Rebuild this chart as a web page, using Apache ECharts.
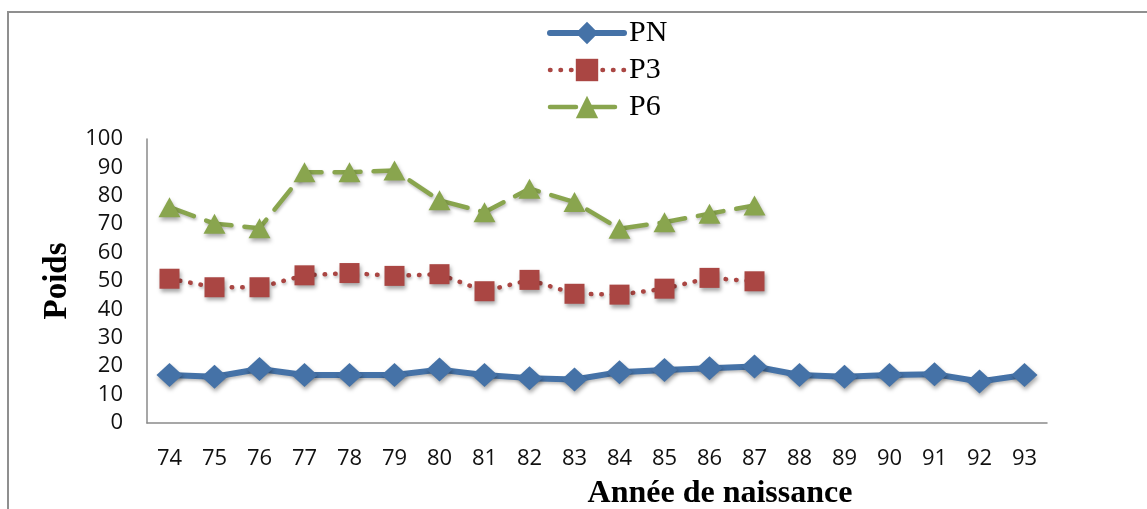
<!DOCTYPE html>
<html>
<head>
<meta charset="utf-8">
<script src="https://cdn.jsdelivr.net/npm/echarts@6/dist/echarts.min.js"></script>
<style>
html,body{margin:0;padding:0;background:#fff;}
#chart{width:1147px;height:509px;}
</style>
</head>
<body>
<div id="chart"></div>
<script>
var categories = ['74','75','76','77','78','79','80','81','82','83','84','85','86','87','88','89','90','91','92','93'];
var yTicks = [0,10,20,30,40,50,60,70,80,90,100];
var pnValues = [16.9,16.3,19.0,16.9,16.9,16.9,18.8,16.9,15.8,15.3,17.9,18.7,19.3,19.9,16.9,16.3,16.9,17.2,14.6,16.9];
var p3Values = [50.8,47.8,47.8,52.0,52.8,51.8,52.4,46.4,50.4,45.5,45.2,47.3,51.1,49.9,null,null,null,null,null,null];
var p6Values = [76.0,70.2,68.6,88.3,88.3,88.9,78.4,74.2,82.5,77.8,68.4,70.7,73.7,76.6,null,null,null,null,null,null];

var BLUE = '#4572A7', RED = '#AA4643', GREEN = '#89A54E';
var shadow = {shadowBlur: 4, shadowColor: 'rgba(0,0,0,0.35)', shadowOffsetX: 1, shadowOffsetY: 3};
var lineShadow = {shadowBlur: 3, shadowColor: 'rgba(0,0,0,0.25)', shadowOffsetX: 1, shadowOffsetY: 2};

var chart = echarts.init(document.getElementById('chart'), null, {renderer: 'canvas'});
chart.setOption({
  animation: false,
  backgroundColor: '#fff',
  graphic: [
    {type: 'rect', shape: {x: 8, y: 12, width: 1300, height: 700}, style: {fill: 'none', stroke: '#8f8f8f', lineWidth: 2}, z: 0},
    {type: 'text', x: 720, y: 494, style: {text: 'Année de naissance', font: 'bold 32px "Liberation Serif"', fill: '#000', align: 'center', verticalAlign: 'middle'}}
  ],
  legend: {
    orient: 'vertical',
    left: 547,
    top: 18,
    padding: 0,
    itemWidth: 74,
    itemHeight: 28,
    itemGap: 7,
    textStyle: {fontFamily: 'Liberation Serif', fontSize: 30, color: '#000', lineHeight: 30},
    data: [
      {name: 'PN', lineStyle: {width: 6, cap: 'round'}},
      {name: 'P3', lineStyle: {width: 4.5, type: [0.5, 10], cap: 'round'}},
      {name: 'P6', lineStyle: {width: 4.5, type: [26, 13], cap: 'round'}}
    ]
  },
  grid: {left: 147, top: 139, right: 100, bottom: 86, containLabel: false},
  xAxis: {
    type: 'category',
    data: categories,
    boundaryGap: true,
    axisLine: {lineStyle: {color: '#8a8a8a', width: 1.5}},
    axisTick: {show: false},
    axisLabel: {margin: 25, fontFamily: 'Open Sans', fontSize: 22, color: '#111', interval: 0},
    splitLine: {show: false}
  },
  yAxis: {
    type: 'value',
    min: yTicks[0],
    max: yTicks[yTicks.length - 1],
    interval: 10,
    name: 'Poids',
    nameLocation: 'middle',
    nameGap: 72,
    nameTextStyle: {fontFamily: 'Liberation Serif', fontWeight: 'bold', fontSize: 33, color: '#000'},
    axisLine: {show: true, lineStyle: {color: '#8a8a8a', width: 1.5}},
    axisTick: {show: false},
    axisLabel: {margin: 24, fontFamily: 'Open Sans', fontSize: 22, color: '#111'},
    splitLine: {show: false}
  },
  series: [
    {
      name: 'PN', type: 'line', data: pnValues,
      symbol: 'diamond', symbolSize: [26, 24],
      lineStyle: Object.assign({color: BLUE, width: 6, cap: 'round', join: 'round'}, lineShadow),
      itemStyle: Object.assign({color: BLUE}, shadow),
      z: 3
    },
    {
      name: 'P3', type: 'line', data: p3Values, connectNulls: false,
      symbol: 'rect', symbolSize: 20,
      lineStyle: Object.assign({color: RED, width: 4.5, type: [0.5, 10], cap: 'round'}, lineShadow),
      itemStyle: Object.assign({color: RED, borderRadius: 2}, shadow),
      z: 3
    },
    {
      name: 'P6', type: 'line', data: p6Values,
      symbol: 'triangle', symbolSize: [22, 20],
      lineStyle: Object.assign({color: GREEN, width: 4.5, type: [26, 13], cap: 'round'}, lineShadow),
      itemStyle: Object.assign({color: GREEN}, shadow),
      z: 3
    }
  ]
});
</script>
</body>
</html>
